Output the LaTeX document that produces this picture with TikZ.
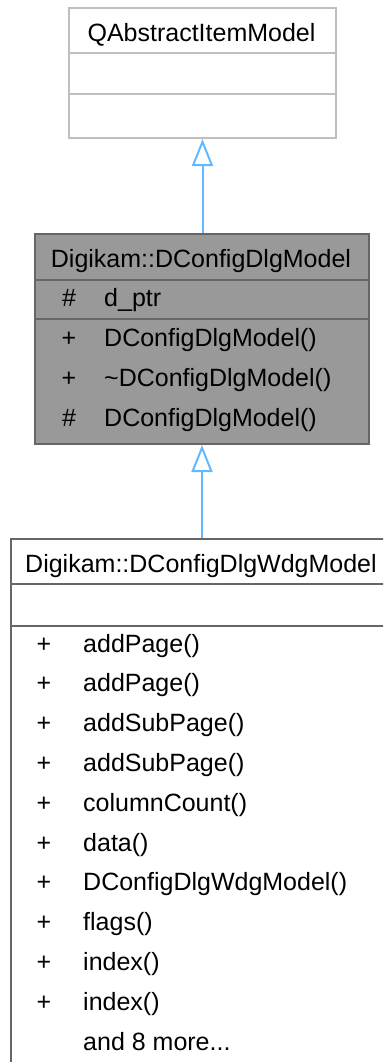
\documentclass[tikz,border=0pt]{standalone}
\usepackage{fontspec}
\setmainfont{Liberation Sans}
\usetikzlibrary{arrows.meta}
\definecolor{lightline}{HTML}{BFBFBF}
\definecolor{darkline}{HTML}{666666}
\definecolor{midfill}{HTML}{999999}
\definecolor{arrowblue}{HTML}{63B8FF}
\tikzset{
  boxlight/.style={draw=lightline, line width=2pt, fill=white, inner sep=0pt, anchor=north west},
  boxmid/.style={draw=darkline, line width=2pt, fill=midfill, inner sep=0pt, anchor=north west},
  boxlow/.style={draw=darkline, line width=2pt, fill=white, inner sep=0pt, anchor=north west},
  divlight/.style={draw=lightline, line width=2pt},
  divdark/.style={draw=darkline, line width=2pt},
  txt/.style={inner sep=0pt, font=\fontsize{25}{30}\selectfont, text=black},
  inh/.style={draw=arrowblue, line width=2pt, {Triangle[fill=white, length=27pt, width=21pt]}-}
}
\begin{document}
\begin{tikzpicture}[x=1pt,y=-1pt]
\useasboundingbox (0,0) rectangle (383,1062);
\clip (0,0) rectangle (383,1062);
% top box
\node[boxlight, minimum width=267pt, minimum height=130pt] (top) at (68,7) {};
\draw[divlight] (top.west |- 0,53) -- (top.east |- 0,53);
\draw[divlight] (top.west |- 0,94) -- (top.east |- 0,94);
\node[txt, anchor=base] (toptitle) at (201.5,42) {QAbstractItemModel};
% middle box
\node[boxmid, minimum width=334pt, minimum height=210pt] (mid) at (34,233) {};
\draw[divdark] (mid.west |- 0,280) -- (mid.east |- 0,280);
\draw[divdark] (mid.west |- 0,319) -- (mid.east |- 0,319);
\node[txt, anchor=base] (midtitle) at (201,267) {Digikam::DConfigDlgModel};
\node[txt, anchor=base] (m1s) at (69,306) {\#};
\node[txt, anchor=base west] (m1) at (104,306) {d\_ptr};
\node[txt, anchor=base] (m2s) at (69,346) {+};
\node[txt, anchor=base west] (m2) at (104,346) {DConfigDlgModel()};
\node[txt, anchor=base] (m3s) at (69,386) {+};
\node[txt, anchor=base west] (m3) at (104,386) {\char"007E DConfigDlgModel()};
\node[txt, anchor=base] (m4s) at (69,426) {\#};
\node[txt, anchor=base west] (m4) at (104,426) {DConfigDlgModel()};
% bottom box
\node[boxlow, minimum width=382pt, minimum height=540pt] (low) at (10,538) {};
\draw[divdark] (low.west |- 0,584) -- (low.east |- 0,584);
\draw[divdark] (low.west |- 0,626) -- (low.east |- 0,626);
\node[txt, anchor=base] (lowtitle) at (201,572) {Digikam::DConfigDlgWdgModel};
\foreach \t [count=\i from 0] in {addPage(),addPage(),addSubPage(),addSubPage(),columnCount(),data(),DConfigDlgWdgModel(),flags(),index(),index()}{
  \node[txt, anchor=base] (ls\i) at (44,{652+39.8*\i}) {+};
  \node[txt, anchor=base west] (l\i) at (83,{652+39.8*\i}) {\t};
}
\node[txt, anchor=base west] (lmore) at (83,1050) {and 8 more...};
% inheritance arrows
\draw[inh] (top.south) -- (top.south |- mid.north);
\draw[inh] (mid.south) -- (mid.south |- low.north);
\end{tikzpicture}
\end{document}
